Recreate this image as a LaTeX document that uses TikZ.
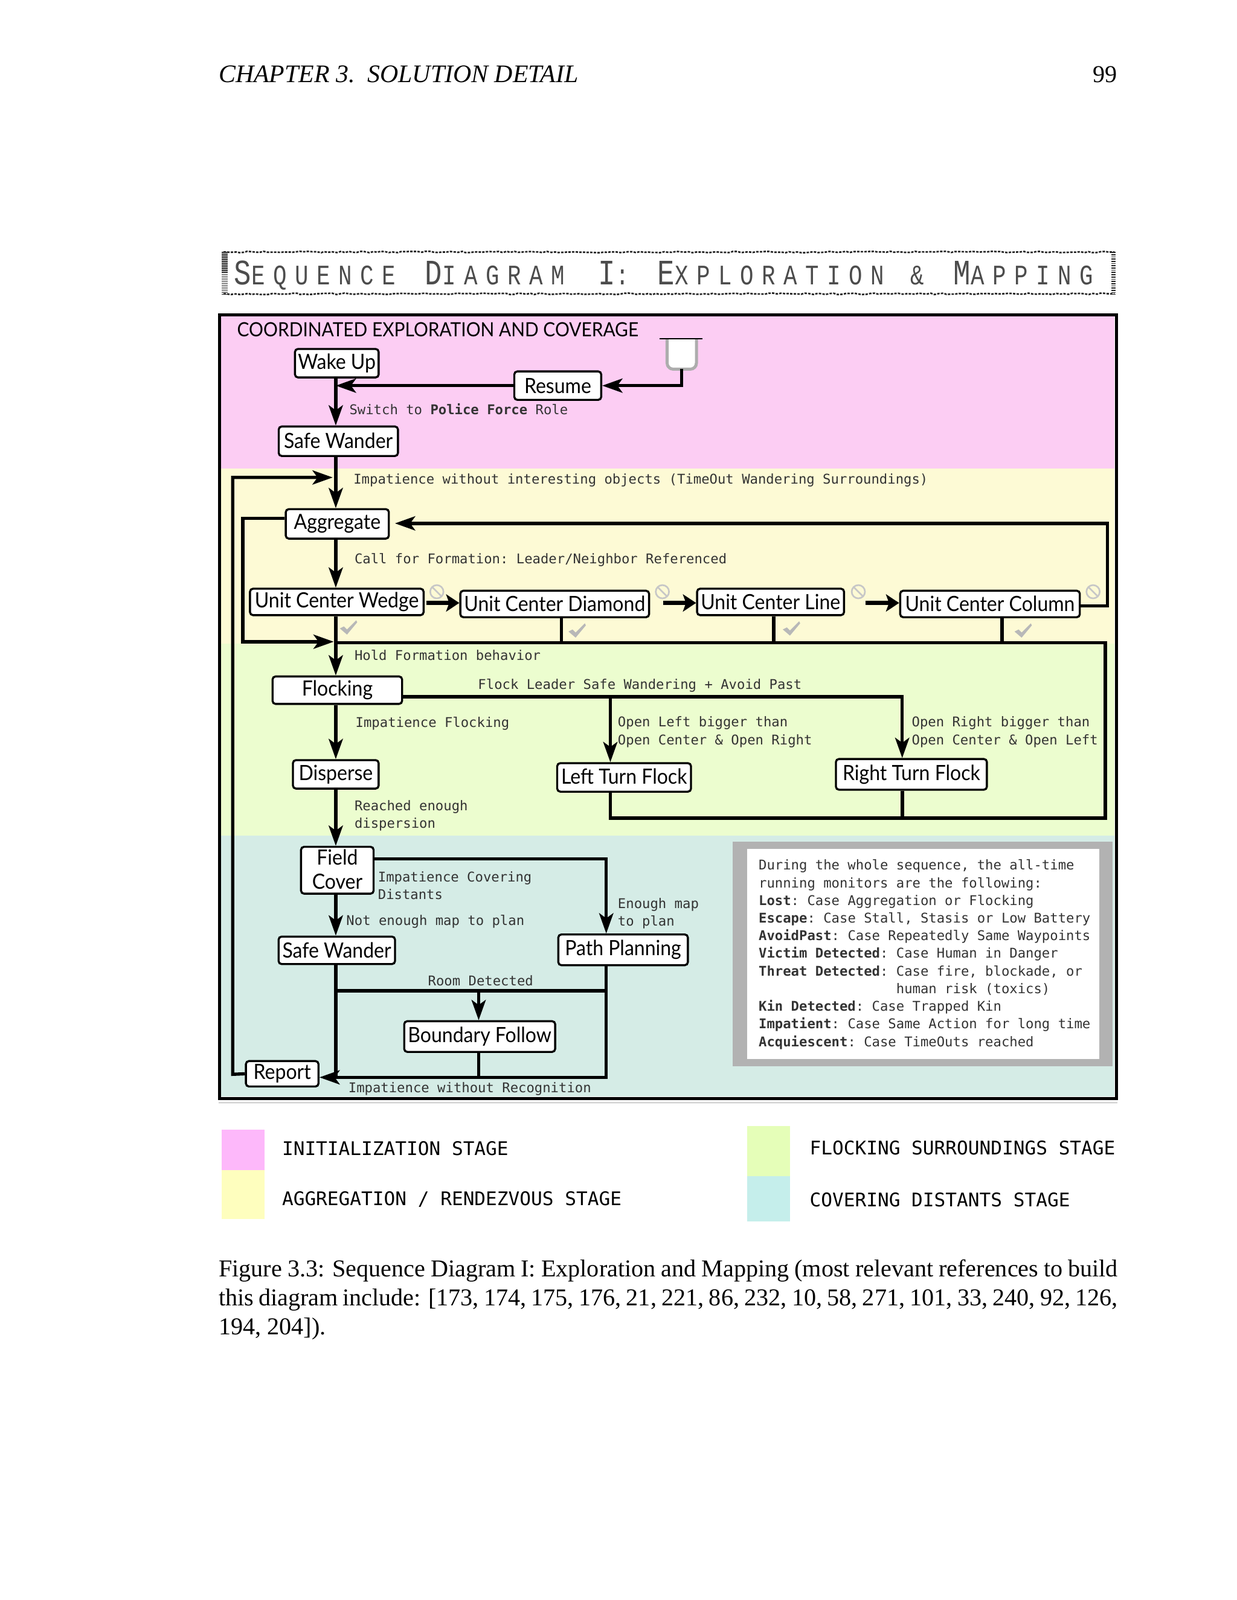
\documentclass[tikz,border=0pt]{standalone}
\usepackage{fontspec}
\setmainfont{Liberation Serif}
\setsansfont[FakeStretch=0.92]{Lato}
\setmonofont{DejaVu Sans Mono}
\newfontfamily\titlefont[LetterSpace=29,FakeStretch=0.8]{Liberation Mono}
\usetikzlibrary{arrows.meta, positioning, decorations.pathmorphing}

\definecolor{bandpink}{RGB}{252,205,243}
\definecolor{bandyellow}{RGB}{253,250,213}
\definecolor{bandgreen}{RGB}{236,253,207}
\definecolor{bandteal}{RGB}{213,236,230}
\definecolor{keypink}{RGB}{253,184,250}
\definecolor{keyyellow}{RGB}{254,254,190}
\definecolor{keygreen}{RGB}{229,254,184}
\definecolor{keyteal}{RGB}{197,238,235}

\newcommand{\capsword}[2]{{\fontsize{17.7}{17}\selectfont #1}{\fontsize{14}{14}\selectfont #2}}

\begin{document}
\begin{tikzpicture}[
    x=0.505pt, y=-0.505pt,
    statebox/.style={draw=black, fill=white, line width=1pt, rounded corners=1.5pt, inner sep=0pt,
        font=\sffamily\fontsize{10.4}{12.2}\selectfont, align=center},
    flow/.style={line width=1.6pt, -{Stealth[length=10pt, width=7pt, inset=2.5pt]}},
    wire/.style={line width=1.7pt},
    hop/.style={line width=2pt, -{Stealth[length=6.5pt, width=8.5pt, inset=1.5pt]}},
    note/.style={anchor=west, inner sep=0pt, text=black!80, align=left,
        font=\ttfamily\fontsize{6.65}{8.73}\selectfont},
    keytext/.style={anchor=west, inner sep=0pt, font=\ttfamily\fontsize{9.3}{11}\selectfont},
    headline/.style={anchor=base west, inner sep=0pt, text=black!70, font=\titlefont},
    roughedge/.style={black!85, line width=0.8pt, dash pattern=on 1.2pt off 0.6pt,
        decorate, decoration={random steps, segment length=2pt, amplitude=0.35pt}}
]
\useasboundingbox (0,0) rectangle (1211.9,1568.3);

% page head
\node[anchor=base west, inner sep=0pt, font=\itshape\fontsize{12.5}{14.4}\selectfont] (chapter) at (214,81) {CHAPTER 3.\ \ SOLUTION DETAIL};
\node[anchor=base east, inner sep=0pt, font=\fontsize{12}{14.4}\selectfont] (pagenum) at (1095,81) {99};

% title strip
\draw[roughedge] (219,247) -- (1092,247);
\draw[roughedge] (219,288) -- (1092,288);
\draw[black!85, line width=3pt, dash pattern=on 0.5pt off 0.4pt] (220,247) -- (220,289);
\draw[black!85, line width=2pt, dash pattern=on 0.5pt off 0.6pt] (1091,247) -- (1091,289);
\node[headline] (titleA) at (229,279) {\capsword{S}{EQUENCE}};
\node[headline] (titleB) at (416,279) {\capsword{D}{IAGRAM}};
\node[headline] (titleC) at (586,279) {\capsword{I}{:}};
\node[headline] (titleD) at (644,279) {\capsword{E}{XPLORATION}};
\node[headline] (titleE) at (892,279) {\capsword{}{\&}};
\node[headline] (titleF) at (934,279) {\capsword{M}{APPING}};

% stage bands
\fill[bandpink] (216,310) rectangle (1092,459);
\fill[bandyellow] (216,459) rectangle (1092,631);
\fill[bandgreen] (216,631) rectangle (1092,819);
\fill[bandteal] (216,819) rectangle (1092,1075);
\draw[line width=1.5pt] (215,308.5) rectangle (1094,1077);
\draw[black!35, line width=0.5pt] (214,1081) -- (1095,1081);

\node[anchor=west, inner sep=0pt, font=\sffamily\fontsize{9.7}{12}\selectfont] (coverage) at (232,323) {COORDINATED EXPLORATION AND COVERAGE};

% states
\node[statebox, minimum width=41.4pt, minimum height=14.1pt] (wake) at (330,356) {Wake Up};
\node[statebox, minimum width=43pt, minimum height=14.1pt] (resume) at (546.5,378) {Resume};
\node[statebox, minimum width=59pt, minimum height=14.6pt] (safeA) at (331.5,432.5) {\raisebox{0.5pt}{Safe Wander}};
\node[statebox, minimum width=51pt, minimum height=14.6pt] (aggregate) at (330.5,513.5) {Aggregate};
\node[statebox, minimum width=85.9pt, minimum height=13.1pt] (wedge) at (330,590) {Unit Center Wedge};
\node[statebox, minimum width=93.4pt, minimum height=13.1pt] (diamond) at (543.5,592) {Unit Center Diamond};
\node[statebox, minimum width=72.7pt, minimum height=13.1pt] (line) at (755,590) {Unit Center Line};
\node[statebox, minimum width=88.9pt, minimum height=13.1pt] (column) at (970,592) {Unit Center Column};
\node[statebox, minimum width=64.1pt, minimum height=13.6pt] (flocking) at (330.5,676.5) {Flocking};
\node[statebox, minimum width=42.4pt, minimum height=14.1pt] (disperse) at (329,759) {Disperse};
\node[statebox, minimum width=66.2pt, minimum height=14.1pt] (leftturn) at (611.5,762) {\raisebox{1pt}{Left Turn Flock}};
\node[statebox, minimum width=74.7pt, minimum height=15.2pt] (rightturn) at (893,759) {Right Turn Flock};
\node[statebox, minimum width=35.9pt, minimum height=23.2pt] (field) at (330.5,853) {\raisebox{1pt}{Field}\\\raisebox{1pt}{Cover}};
\node[statebox, minimum width=57.6pt, minimum height=13.6pt] (safeB) at (330,931.5) {Safe Wander};
\node[statebox, minimum width=64.1pt, minimum height=15.2pt] (path) at (610.5,931) {Path Planning};
\node[statebox, minimum width=74.7pt, minimum height=15.2pt] (boundary) at (470,1016) {\raisebox{-0.8pt}{Boundary Follow}};
\node[statebox, minimum width=35.9pt, minimum height=12.6pt] (report) at (276.5,1052.5) {\raisebox{-0.8pt}{Report}};

% resume cup
\node[fill=white, minimum width=14.1pt, minimum height=14.6pt, inner sep=0pt] (cup) at (668,347) {};
\coordinate (cupleft) at (646,332);
\coordinate (cupright) at (688,332);
\draw[black!32, line width=1.5pt, rounded corners=3pt] (cup.north west) -- (cup.south west) -- (cup.south east) -- (cup.north east);
\draw[line width=0.8pt] (cupleft) -- (cupright);

% joints
\coordinate (resumein) at (cup.south |- resume.east);
\coordinate (tojoin) at (329,379);
\coordinate (looptop) at (326,468);
\coordinate (loopcorner) at (228,468);
\coordinate (reportcorner) at (228,1053);
\coordinate (formin) at (327,629);
\coordinate (formcorner) at (238,629);
\coordinate (aggcorner) at (238,508);
\coordinate (backA) at (1085,513);
\coordinate (backB) at (1085,594);
\coordinate (aggback) at (387,513);
\coordinate (hopA) at (418,591);
\coordinate (hopB) at (650,591);
\coordinate (hopC) at (848,591);
\coordinate (holdA) at (329,630);
\coordinate (holdB) at (1083,630);
\coordinate (holdC) at (1083,802);
\coordinate (holdD) at (598,802);
\coordinate (flockA) at (598,683);
\coordinate (flockB) at (884,683);
\coordinate (fieldA) at (594,842);
\coordinate (roomA) at (329,971);
\coordinate (roomB) at (594,971);
\coordinate (roomC) at (469,971);
\coordinate (endA) at (594,1056);
\coordinate (endB) at (469,1056);
\coordinate (endC) at (329,1056);
\coordinate (dropA) at (550,630);
\coordinate (dropB) at (758,630);
\coordinate (dropC) at (982,630);

% transitions
\path[flow]
    (tojoin |- wake.south) edge (tojoin |- safeA.north)
    (tojoin |- safeA.south) edge (tojoin |- aggregate.north)
    (tojoin |- aggregate.south) edge (tojoin |- wedge.north)
    (tojoin |- wedge.south) edge (tojoin |- flocking.north)
    (tojoin |- flocking.south) edge (tojoin |- disperse.north)
    (tojoin |- disperse.south) edge (tojoin |- field.north)
    (tojoin |- field.south) edge (tojoin |- safeB.north)
    (resume.west) edge (tojoin |- resume.west)
    (flockA) edge (flockA |- leftturn.north)
    (roomC) edge (roomC |- boundary.north)
    ;
\draw[flow] (cup.south) -- (resumein) -- (resume.east);
\draw[flow] (report.west) -- (reportcorner) -- (loopcorner) -- (looptop);
\draw[flow] (aggregate.west |- aggcorner) -- (aggcorner) -- (formcorner) -- (formin);
\draw[flow] (column.east |- backB) -- (backB) -- (backA) -- (aggback);
\draw[flow] (flocking.east |- flockA) -- (flockB) -- (flockB |- rightturn.north);
\draw[flow] (field.east |- fieldA) -- (fieldA) -- (fieldA |- path.north);
\draw[flow] (fieldA |- path.south) -- (endA) -- (report.east |- endA);

\path[hop]
    (hopA) edge (hopA -| diamond.west)
    (hopB) edge (hopB -| line.west)
    (hopC) edge (hopC -| column.west)
    ;

\draw[wire] (holdA) -- (holdB) -- (holdC) -- (holdD) -- (holdD |- leftturn.south);
\draw[wire] (flockB |- rightturn.south) -- (flockB |- holdC);
\draw[wire] (dropA |- diamond.south) -- (dropA);
\draw[wire] (dropB |- line.south) -- (dropB);
\draw[wire] (dropC |- column.south) -- (dropC);
\draw[wire] (tojoin |- safeB.south) -- (endC);
\draw[wire] (roomA) -- (roomB);
\draw[wire] (roomC |- boundary.south) -- (endB);

% no-go and done marks
\foreach \mx in {428,649,841,1071} {
    \draw[black!22, line width=0.8pt] (\mx,580) circle (6.5);
    \draw[black!22, line width=0.8pt] (\mx-4.5,575.5) -- (\mx+4.5,584.5);
}
\foreach \mx/\my in {342/615,566/618,776/616,1003/618} {
    \fill[black!28] (\mx-9,\my+1) -- (\mx-5,\my-1) -- (\mx-2,\my+2) -- (\mx+7,\my-7) -- (\mx+8,\my-5) -- (\mx-2,\my+7) -- cycle;
}

% transition texts
\node[note] (switchtxt) at (342,401) {Switch to \textbf{Police Force} Role};
\node[note] (waittxt) at (346,471) {Impatience without interesting objects (TimeOut Wandering Surroundings)};
\node[note] (calltxt) at (347,549) {Call for Formation: Leader/Neighbor Referenced};
\node[note] (holdtxt) at (347,642) {Hold Formation behavior};
\node[note] (leadertxt) at (468,672) {Flock Leader Safe Wandering + Avoid Past};
\node[note] (flocktxt) at (348,709) {Impatience Flocking};
\node[note] (lefttxt) at (605,717.5) {Open Left bigger than\\Open Center \& Open Right};
\node[note] (righttxt) at (893,717.5) {Open Right bigger than\\Open Center \& Open Left};
\node[note] (reachtxt) at (347,799.5) {Reached enough\\dispersion};
\node[note] (covertxt) at (370,868) {Impatience Covering\\Distants};
\node[note] (enoughtxt) at (605,895.5) {Enough map\\to plan};
\node[note] (maptxt) at (339,903.5) {Not enough map to plan};
\node[note] (roomtxt) at (419,961) {Room Detected};
\node[note] (recogtxt) at (341,1067.5) {Impatience without Recognition};

% monitors
\fill[black!30] (718,825) rectangle (1090,1045);
\fill[white] (732,832) rectangle (1077,1038);
\node[note] (monitors) at (743,935.5) {During the whole sequence, the all-time\\
running monitors are the following:\\
\textbf{Lost}: Case Aggregation or Flocking\\
\textbf{Escape}: Case Stall, Stasis or Low Battery\\
\textbf{AvoidPast}: Case Repeatedly Same Waypoints\\
\textbf{Victim Detected}: Case Human in Danger\\
\textbf{Threat Detected}: Case fire, blockade, or\\
\phantom{Threat Detected: }human risk (toxics)\\
\textbf{Kin Detected}: Case Trapped Kin\\
\textbf{Impatient}: Case Same Action for long time\\
\textbf{Acquiescent}: Case TimeOuts reached};

% legend
\fill[keypink] (217,1107) rectangle (259,1147);
\fill[keyyellow] (217,1147) rectangle (259,1195);
\fill[keygreen] (732,1104) rectangle (774,1153);
\fill[keyteal] (732,1153) rectangle (774,1197);
\node[keytext] (keyinit) at (276,1126) {INITIALIZATION STAGE};
\node[keytext] (keyagg) at (276,1175.5) {AGGREGATION / RENDEZVOUS STAGE};
\node[keytext] (keyflock) at (793,1125) {FLOCKING SURROUNDINGS STAGE};
\node[keytext] (keycover) at (793,1176) {COVERING DISTANTS STAGE};

% caption
\node[anchor=north west, inner sep=0pt, text width=444.9pt, align=justify, font=\fontsize{12}{14.4}\selectfont] (caption) at (214,1234)
    {Figure 3.3: Sequence Diagram I: Exploration and Mapping (most relevant references to build this diagram include: [173, 174, 175, 176, 21, 221, 86, 232, 10, 58, 271, 101, 33, 240, 92, 126,\linebreak 194, 204]).};

\end{tikzpicture}
\end{document}
